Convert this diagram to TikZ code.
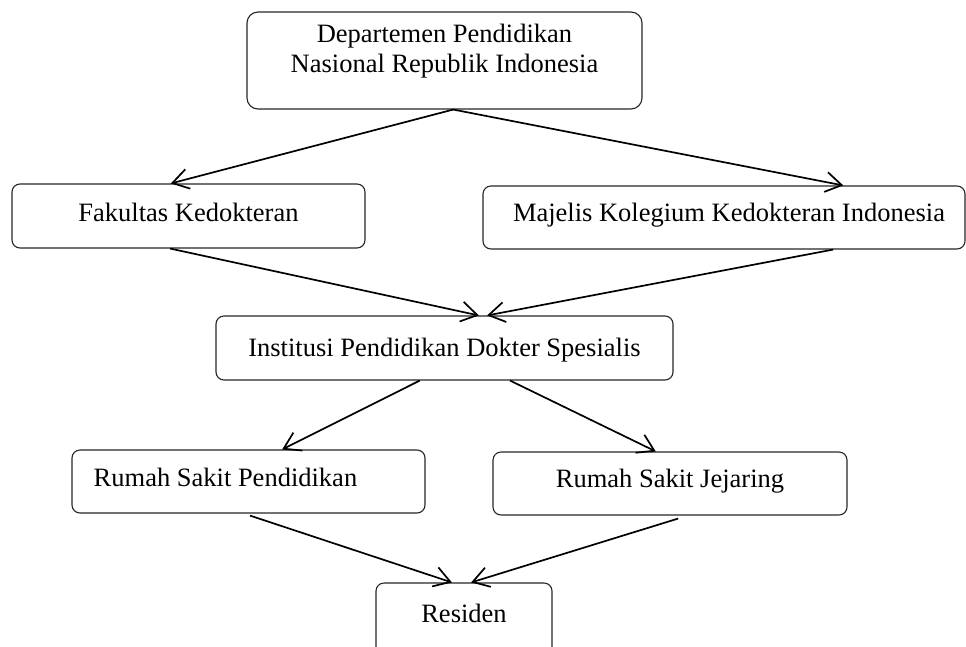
\documentclass[tikz,border=0pt]{standalone}
\usepackage{fontspec}
\setmainfont{Liberation Serif}
\usetikzlibrary{arrows.meta,calc}
\begin{document}
\begin{tikzpicture}[x=1pt,y=-1pt,
  box/.style={draw=black!85, line width=1.1pt, rounded corners=8pt, inner sep=0pt,
    font=\fontsize{26.5}{30}\selectfont, text height=18pt, text depth=8pt},
  conn/.style={line width=1.7pt, -{Straight Barb[length=16pt,width=20pt]}}]
\useasboundingbox (0,0) rectangle (966,646);
\clip (0,0) rectangle (966,646);
\node[box, rounded corners=11pt, minimum width=395pt, minimum height=97pt,
  text height=50pt, text depth=27pt] (top) at (444.5,60.5)
  {\begin{tabular}[b]{@{}c@{}}Departemen Pendidikan\\Nasional Republik Indonesia\end{tabular}};
\node[box, minimum width=353pt, minimum height=64pt] (fak) at (188.5,216) {Fakultas Kedokteran};
\node[box, minimum width=482pt, minimum height=63pt, text depth=11pt] (maj) at (724,217.5)
  {\hspace*{10pt}Majelis Kolegium Kedokteran Indonesia};
\node[box, minimum width=457pt, minimum height=64pt, text height=20pt, text depth=4pt] (ins) at (444.5,348)
  {Institusi Pendidikan Dokter Spesialis};
\node[box, minimum width=353pt, minimum height=63pt, text depth=9pt] (rsp) at (248.5,481.5)
  {\hspace*{-46pt}Rumah Sakit Pendidikan};
\node[box, minimum width=354pt, minimum height=63pt, text depth=11pt] (rsj) at (670,483.5)
  {Rumah Sakit Jejaring};
\node[box, minimum width=176pt, minimum height=77pt, text height=13pt, text depth=12pt] (res) at (464,621.5)
  {Residen};
\draw[conn] ($(top.south west)!0.522!(top.south east)$) -- ($(fak.north west)!0.45!(fak.north east)$);
\draw[conn] ($(top.south west)!0.522!(top.south east)$) -- ($(maj.north west)!0.747!(maj.north east)$);
\draw[conn] ($(fak.south west)!0.448!(fak.south east)$) -- ($(ins.north west)!0.575!(ins.north east)$);
\draw[conn] ($(maj.south west)!0.726!(maj.south east)$) -- ($(ins.north west)!0.593!(ins.north east)$);
\draw[conn] ($(ins.south west)!0.446!(ins.south east)$) -- ($(rsp.north west)!0.595!(rsp.north east)$);
\draw[conn] ($(ins.south west)!0.643!(ins.south east)$) -- ($(rsj.north west)!0.46!(rsj.north east)$);
\draw[conn] ($(rsp.south west)!0.504!(rsp.south east)+(0,2)$) -- ($(res.north west)!0.432!(res.north east)$);
\draw[conn] ($(rsj.south west)!0.523!(rsj.south east)+(0,3)$) -- ($(res.north west)!0.54!(res.north east)$);
\end{tikzpicture}
\end{document}
